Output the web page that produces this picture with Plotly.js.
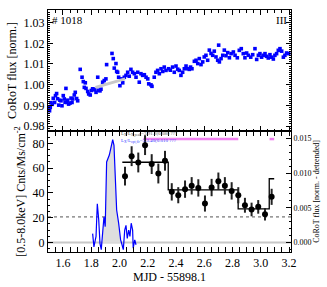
<!DOCTYPE html>
<html><head><meta charset="utf-8">
<script src="https://cdn.plot.ly/plotly-3.0.1.min.js"></script>
<style>html,body{margin:0;padding:0;background:#fff}#chart{width:327px;height:287px}</style>
</head><body><div id="chart"></div>
<script>
// Top panel: CoRoT light curve
const lcTime = [1.500,1.505,1.510,1.515,1.524,1.531,1.541,1.547,1.555,1.562,1.570,1.578,1.586,1.593,1.602,1.609,1.615,1.621,1.626,1.633,1.640,1.650,1.657,1.664,1.669,1.680,1.687,1.697,1.704,1.722,1.735,1.744,1.751,1.758,1.763,1.775,1.782,1.793,1.801,1.810,1.817,1.826,1.834,1.846,1.853,1.862,1.869,1.881,1.892,1.904,1.909,1.947,1.956,1.963,1.975,1.980,1.987,1.994,2.003,2.011,2.023,2.034,2.046,2.058,2.069,2.081,2.093,2.105,2.117,2.129,2.140,2.152,2.164,2.176,2.188,2.200,2.207,2.223,2.230,2.246,2.258,2.270,2.282,2.294,2.306,2.317,2.329,2.348,2.360,2.376,2.388,2.400,2.412,2.423,2.435,2.447,2.459,2.471,2.483,2.494,2.503,2.513,2.530,2.542,2.554,2.565,2.577,2.589,2.600,2.612,2.624,2.636,2.648,2.660,2.671,2.683,2.695,2.702,2.707,2.719,2.731,2.742,2.754,2.766,2.778,2.790,2.806,2.818,2.834,2.848,2.862,2.876,2.888,2.900,2.912,2.929,2.943,2.959,2.971,2.983,2.994,3.006,3.018,3.030,3.041,3.053,3.065,3.077,3.089,3.100,3.112,3.124,3.136,3.148,3.160,3.171,3.183,3.197];
const lcFlux = [0.9888,0.9874,0.9890,0.9913,0.9905,0.9934,0.9914,0.9947,0.9957,0.9932,0.9901,0.9925,0.9922,0.9898,0.9947,0.9931,0.9915,0.9982,0.9914,0.9925,0.9906,0.9911,0.9935,0.9914,0.9931,0.9950,0.9963,0.9933,0.9922,1.0074,1.0036,1.0015,0.9987,1.0009,0.9982,0.9967,0.9955,0.9950,0.9972,0.9980,0.9978,0.9975,0.9963,1.0036,0.9973,0.9970,0.9978,1.0012,1.0020,1.0028,1.0097,1.0151,1.0126,1.0080,1.0102,1.0064,1.0060,1.0036,0.9995,1.0028,1.0009,1.0036,1.0045,1.0060,1.0041,1.0074,1.0060,1.0053,1.0036,1.0060,1.0012,1.0053,1.0045,1.0048,1.0036,1.0028,1.0004,0.9999,0.9992,1.0036,1.0060,1.0069,1.0053,1.0077,1.0064,1.0085,1.0069,1.0077,1.0070,1.0085,1.0060,1.0090,1.0075,1.0069,1.0045,1.0060,1.0077,1.0090,1.0077,1.0074,1.0085,1.0077,1.0113,1.0118,1.0102,1.0126,1.0097,1.0110,1.0134,1.0142,1.0118,1.0167,1.0151,1.0142,1.0162,1.0134,1.0118,1.0191,1.0110,1.0126,1.0142,1.0167,1.0140,1.0155,1.0130,1.0150,1.0158,1.0142,1.0130,1.0166,1.0174,1.0150,1.0130,1.0153,1.0142,1.0133,1.0145,1.0174,1.0122,1.0142,1.0150,1.0133,1.0142,1.0150,1.0137,1.0129,1.0145,1.0133,1.0124,1.0142,1.0150,1.0166,1.0174,1.0162,1.0133,1.0142,1.0153,1.0150];
const trendTime = [1.830, 2.040];
const trendFlux = [0.9987, 1.0028];

// Bottom panel: detrended CoRoT flux (right axis)
const detTime = [1.810,1.819,1.834,1.843,1.853,1.862,1.871,1.881,1.890,1.899,1.909,1.928,1.942,1.952,1.961,1.970,1.980,1.994,2.008,2.018,2.027,2.037,2.046,2.055,2.065,2.074,2.083,2.093,2.097,2.108,2.117];
const detFlux = [0.0013,-0.0006,0.0009,0.0056,0.0033,-0.0001,-0.0010,0.0018,0.0037,0.0023,0.0116,0.0126,0.0138,0.0148,0.0140,0.0100,0.0047,0.0028,0.0004,-0.0003,-0.0010,0.0018,0.0025,0.0006,0.0018,0.0009,0.0028,0.0018,-0.0008,0.0004,-0.0003];
const flareWindow = [1.878, 2.012];

// Bottom panel: X-ray count rate (left axis)
const xrayTime = [2.039,2.086,2.133,2.181,2.228,2.275,2.322,2.370,2.416,2.464,2.511,2.558,2.605,2.652,2.700,2.746,2.794,2.841,2.888,2.935,2.982,3.030,3.077];
const xrayRate = [53.6,69.7,64.6,78.6,63.3,55.7,66.0,40.9,38.2,43.1,45.8,44.1,31.5,44.4,49.5,45.8,41.7,38.2,30.1,26.7,28.8,22.9,36.9];
const xrayErr = [7.5,8,8,8,8,8,8,7,6.5,7,7,7,6.5,7,7,7,7,6.5,6,5.5,5.5,5,6.5];
const blockTime = [2.020, 2.345, 2.840, 3.060, 3.095];
const blockRate = [64.8, 42.5, 27.2, 51.5, 51.5];
const gtiTime = [2.169, 2.841, null, 3.062, 3.095];
const gtiLevel = [83.5, 83.5, null, 83.5, 83.5];
const quiescentLevel = [20.7];
const zeroLevel = [0];

const serif = 'Liberation Serif, Times New Roman, serif';

const fillT = [], fillF = [];
detTime.forEach((t, i) => { if (t >= flareWindow[0] && t <= flareWindow[1]) { fillT.push(t); fillF.push(detFlux[i]); } });

const traces = [
  {x: lcTime, y: lcFlux, xaxis: 'x2', yaxis: 'y', mode: 'markers', marker: {color: '#0000ff', symbol: 'square', size: 3.6}},
  {x: trendTime, y: trendFlux, xaxis: 'x2', yaxis: 'y', mode: 'lines', line: {color: '#c8c8c8', width: 3}, hoverinfo: 'skip'},
  {x: fillT, y: fillF, xaxis: 'x', yaxis: 'y3', mode: 'lines', fill: 'tozeroy', fillcolor: '#dedede', line: {width: 0, color: 'rgba(0,0,0,0)'}},
  {x: detTime, y: detFlux, xaxis: 'x', yaxis: 'y3', mode: 'lines', line: {color: '#0000ff', width: 1.2}},
  {x: gtiTime, y: gtiLevel, xaxis: 'x', yaxis: 'y2', mode: 'lines', line: {color: '#f080f0', width: 2.5}, connectgaps: false},
  {x: blockTime, y: blockRate, xaxis: 'x', yaxis: 'y2', mode: 'lines', line: {color: '#000', width: 1.3, shape: 'hv'}},
  {x: xrayTime, y: xrayRate, xaxis: 'x', yaxis: 'y2', mode: 'markers', marker: {color: '#000', size: 6},
   error_y: {type: 'data', array: xrayErr, color: '#222', thickness: 2, width: 0}}
];

const tickFont = {family: serif, size: 12, color: '#000'};
const layout = {
  width: 327, height: 287,
  margin: {l: 48, r: 36, t: 10, b: 35},
  paper_bgcolor: '#fff', plot_bgcolor: '#fff',
  showlegend: false,
  font: {family: serif, color: '#000'},
  xaxis: {domain: [0, 1], anchor: 'y2', range: [1.494, 3.214], dtick: 0.2, tick0: 1.6, tickformat: '.1f',
    ticks: 'inside', ticklen: 5, tickcolor: '#000', showline: true, linecolor: '#000', linewidth: 1, mirror: 'allticks',
    showgrid: false, zeroline: false, tickfont: tickFont,
    minor: {ticks: 'inside', ticklen: 2.5, dtick: 0.05, tickcolor: '#000'},
    title: {text: 'MJD - 55898.1', font: {family: serif, size: 12}, standoff: 2}},
  xaxis2: {domain: [0, 1], anchor: 'y', matches: 'x', showticklabels: false,
    ticks: 'inside', ticklen: 5, tickcolor: '#000', showline: true, linecolor: '#000', linewidth: 1, mirror: 'allticks',
    showgrid: false, zeroline: false, dtick: 0.2, tick0: 1.6,
    minor: {ticks: 'inside', ticklen: 2.5, dtick: 0.05, tickcolor: '#000'}},
  yaxis: {domain: [0.5, 1], anchor: 'x2', range: [0.9776, 1.0361], dtick: 0.01, tickformat: '.2f',
    ticks: 'inside', ticklen: 5, tickcolor: '#000', showline: true, linecolor: '#000', linewidth: 1, mirror: 'allticks',
    showgrid: false, zeroline: false, tickfont: tickFont,
    minor: {ticks: 'inside', ticklen: 2, dtick: 0.001, tickcolor: '#000'},
    title: {text: 'CoRoT flux [norm.]', font: {family: serif, size: 12}, standoff: 4}},
  yaxis2: {domain: [0, 0.5], anchor: 'x', range: [-7.6, 90], dtick: 20,
    ticks: 'inside', ticklen: 5, tickcolor: '#000', showline: true, linecolor: '#000', linewidth: 1,
    showgrid: false, zeroline: false, tickfont: tickFont,
    minor: {ticks: 'inside', ticklen: 2, dtick: 5, tickcolor: '#000'},
    title: {text: '[0.5-8.0keV] Cnts/Ms/cm<sup>-2</sup>', font: {family: serif, size: 12}, standoff: 4}},
  yaxis3: {overlaying: 'y2', side: 'right', anchor: 'x', range: [-0.00134, 0.01605], dtick: 0.005, tickformat: '.3f',
    ticks: 'inside', ticklen: 5, tickcolor: '#000', showline: true, linecolor: '#000', linewidth: 1,
    showgrid: false, zeroline: false, tickfont: {family: serif, size: 8, color: '#000'},
    minor: {ticks: 'inside', ticklen: 2, dtick: 0.001, tickcolor: '#000'},
    title: {text: 'CoRoT flux [norm. - detrended]', font: {family: serif, size: 8}, standoff: 2}},
  shapes: [
    {type: 'line', xref: 'x domain', yref: 'y2', x0: 0, x1: 1, y0: zeroLevel[0], y1: zeroLevel[0], line: {color: '#c8c8c8', width: 2}, layer: 'below'},
    {type: 'line', xref: 'x domain', yref: 'y2', x0: 0, x1: 1, y0: quiescentLevel[0], y1: quiescentLevel[0], line: {color: '#555', width: 1, dash: 'dot'}, layer: 'below'}
  ],
  annotations: [
    {text: '# 1018', xref: 'paper', yref: 'paper', x: 0.01, y: 0.99, xanchor: 'left', yanchor: 'top', showarrow: false, font: {family: serif, size: 11}},
    {text: 'III', xref: 'paper', yref: 'paper', x: 0.99, y: 0.99, xanchor: 'right', yanchor: 'top', showarrow: false, font: {family: serif, size: 11}},
    {text: 'L<sub>X</sub>/L<sub>X,peak</sub>=3.91.2(0.080 ???', xref: 'x', yref: 'y2', x: 2.0, y: 86.8, xanchor: 'left', yanchor: 'middle', showarrow: false, font: {family: serif, size: 5, color: '#555'}},
    {text: 'L<sub>X</sub>/L<sub>opt,flr</sub>=3.3.40(0.010 ???', xref: 'x', yref: 'y2', x: 2.0, y: 81.9, xanchor: 'left', yanchor: 'middle', showarrow: false, font: {family: serif, size: 5, color: '#4040ff'}}
  ]
};

Plotly.newPlot('chart', traces, layout, {displayModeBar: false, staticPlot: true});
</script>
</body></html>
